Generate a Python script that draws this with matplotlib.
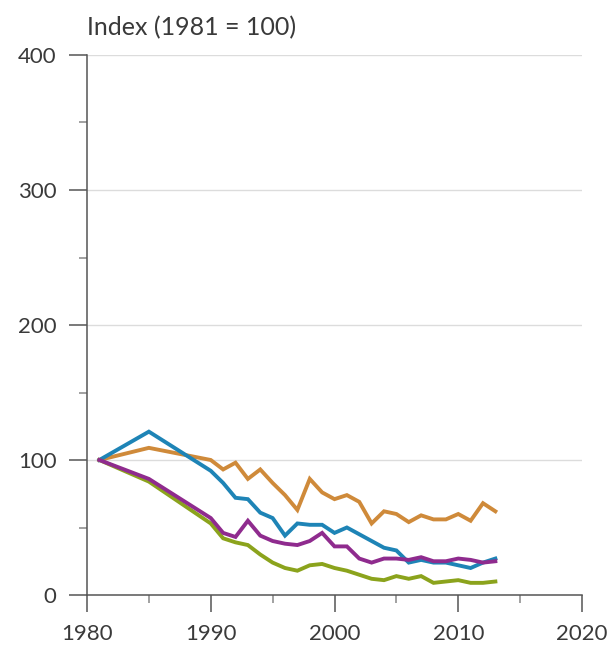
import numpy as np
import matplotlib
matplotlib.use("Agg")
import matplotlib.pyplot as plt
from matplotlib.ticker import MultipleLocator

plt.rcParams['font.family'] = ['Lato', 'DejaVu Sans']

# --- data (index, 1981 = 100) ---
years = [1981, 1985] + list(range(1990, 2014))

blue = [100, 121, 92, 83, 72, 71, 61, 57, 44, 53, 52, 52, 46, 50, 45,
        40, 35, 33, 24, 26, 24, 24, 22, 20, 24, 27]
orange = [100, 109, 100, 93, 98, 86, 93, 83, 74, 63, 86, 76, 71, 74, 69,
          53, 62, 60, 54, 59, 56, 56, 60, 55, 68, 62]
purple = [100, 86, 57, 46, 43, 55, 44, 40, 38, 37, 40, 46, 36, 36, 27,
          24, 27, 27, 26, 28, 25, 25, 27, 26, 24, 25]
green = [100, 84, 53, 42, 39, 37, 30, 24, 20, 18, 22, 23, 20, 18, 15,
         12, 11, 14, 12, 14, 9, 10, 11, 9, 9, 10]

series = [
    (orange, '#cf8a3a'),
    (blue, '#1e84b6'),
    (green, '#8ba31c'),
    (purple, '#8f2b8e'),
]

text_col = '#3a3a3a'
axis_col = '#555555'

fig = plt.figure(figsize=(6.14, 6.51), dpi=100)
ax = fig.add_axes([87 / 614, 1 - 595 / 651, (582 - 87) / 614, (595 - 55) / 651])

# light horizontal grid
for v in [100, 200, 300, 400]:
    ax.axhline(v, color='#dcdcdc', lw=1.0, zorder=0)

for vals, col in series:
    ax.plot(years, vals, color=col, lw=2.8, solid_joinstyle='miter', zorder=3)

ax.set_xlim(1980, 2020)
ax.set_ylim(0, 400)

ax.xaxis.set_major_locator(MultipleLocator(10))
ax.xaxis.set_minor_locator(MultipleLocator(5))
ax.yaxis.set_major_locator(MultipleLocator(100))
ax.yaxis.set_minor_locator(MultipleLocator(50))

for s in ['top', 'right']:
    ax.spines[s].set_visible(False)
for s in ['left', 'bottom']:
    ax.spines[s].set_color(axis_col)
    ax.spines[s].set_linewidth(1.1)

ax.tick_params(axis='both', which='major', direction='out', color=axis_col,
               width=1.1, labelsize=16, labelcolor=text_col)
ax.tick_params(axis='x', which='major', length=12, pad=9)
ax.tick_params(axis='y', which='major', length=13, pad=9)
ax.tick_params(axis='both', which='minor', direction='out', color='#888888',
               width=1.1, length=6)

fig.text(87 / 614, 1 - 35 / 651, 'Index (1981 = 100)', ha='left', va='baseline',
         fontsize=18, color=text_col)

fig.savefig('out.png', dpi=100, facecolor='white')
plt.close(fig)
